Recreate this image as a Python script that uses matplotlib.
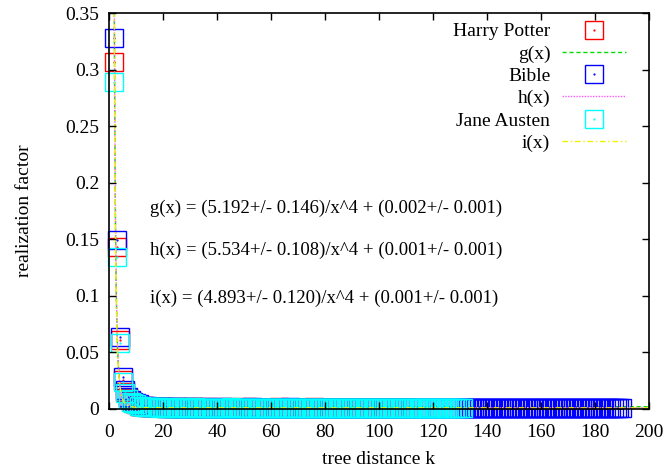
import numpy as np
import matplotlib
matplotlib.use("Agg")
import matplotlib.pyplot as plt
from matplotlib.legend_handler import HandlerTuple

plt.rcParams['font.family'] = ['Liberation Serif', 'DejaVu Serif']
plt.rcParams['font.size'] = 14

# realization factor per tree distance k (first point at k = 2)
harry_potter = [
    0.307, 0.143, 0.061, 0.026, 0.015, 0.010, 0.007, 0.005, 0.004, 0.003,
    0.003, 0.003, 0.002, 0.002, 0.002, 0.002, 0.002, 0.002,
    0.002, 0.001, 0.002, 0.001, 0.001, 0.002, 0.001, 0.001, 0.001, 0.002,
    0.001, 0.001, 0.002, 0.001, 0.001, 0.001, 0.001, 0.002, 0.001, 0.001,
    0.001, 0.001, 0.001, 0.001, 0.002, 0.001, 0.001, 0.001, 0.001, 0.001,
    0.001, 0.002, 0.001, 0.001, 0.001, 0.001, 0.001, 0.001, 0.001, 0.001,
    0.001, 0.001, 0.001, 0.002, 0.001, 0.001, 0.001, 0.001, 0.001, 0.001,
    0.001, 0.001, 0.001, 0.001, 0.001, 0.001, 0.002, 0.001, 0.001, 0.001,
    0.001, 0.001, 0.001, 0.001, 0.001, 0.001, 0.001, 0.001, 0.001, 0.001,
    0.001, 0.001, 0.001, 0.001, 0.001, 0.001, 0.001, 0.001, 0.001, 0.001,
    0.001, 0.001, 0.001, 0.001, 0.001, 0.001, 0.001, 0.001, 0.001, 0.001,
    0.001, 0.001,
]
bible = [
    0.328, 0.149, 0.064, 0.028, 0.017, 0.011, 0.008, 0.006, 0.005, 0.004,
    0.003, 0.003, 0.003, 0.002, 0.002, 0.002, 0.002, 0.002,
    0.002, 0.002, 0.001, 0.002, 0.001, 0.002, 0.001, 0.001, 0.002, 0.001,
    0.001, 0.002, 0.001, 0.001, 0.001, 0.002, 0.001, 0.001, 0.001, 0.001,
    0.001, 0.001, 0.002, 0.001, 0.001, 0.001, 0.001, 0.001, 0.001, 0.001,
    0.001, 0.001, 0.001, 0.002, 0.001, 0.001, 0.001, 0.001, 0.001, 0.001,
    0.001, 0.001, 0.001, 0.001, 0.001, 0.001, 0.001, 0.002, 0.001, 0.001,
    0.001, 0.001, 0.001, 0.001, 0.001, 0.001, 0.001, 0.001, 0.001, 0.001,
    0.001, 0.001, 0.001, 0.001, 0.001, 0.001, 0.001, 0.001, 0.001, 0.001,
    0.001, 0.001, 0.001, 0.001, 0.001, 0.001, 0.001, 0.001, 0.001, 0.001,
    0.001, 0.001, 0.001, 0.001, 0.001, 0.001, 0.001, 0.001, 0.001, 0.001,
    0.001, 0.001, 0.001, 0.001, 0.001, 0.001, 0.001, 0.001, 0.001, 0.001,
    0.001, 0.001, 0.001, 0.001, 0.001, 0.001, 0.001, 0.001, 0.001, 0.001,
    0.001, 0.001, 0.001, 0.001, 0.001, 0.001, 0.001, 0.001, 0.001, 0.001,
    0.001, 0.001, 0.001, 0.001, 0.001, 0.001, 0.001, 0.001, 0.001, 0.001,
    0.001, 0.001, 0.001, 0.001, 0.001, 0.001, 0.001, 0.001, 0.001, 0.001,
    0.001, 0.001, 0.001, 0.001, 0.001, 0.001, 0.001, 0.001, 0.001, 0.001,
    0.001, 0.001, 0.001, 0.001, 0.001, 0.001, 0.001, 0.001, 0.001, 0.001,
    0.001, 0.001, 0.001, 0.001, 0.001, 0.001, 0.001, 0.001, 0.001, 0.001,
    0.001,
]
jane_austen = [
    0.289, 0.134, 0.058, 0.024, 0.014, 0.009, 0.006, 0.005, 0.004, 0.003,
    0.003, 0.002, 0.002, 0.002, 0.002, 0.002, 0.002, 0.001,
    0.002, 0.001, 0.001, 0.002, 0.001, 0.001, 0.001, 0.002, 0.001, 0.001,
    0.001, 0.001, 0.002, 0.001, 0.001, 0.001, 0.001, 0.001, 0.001, 0.001,
    0.001, 0.001, 0.001, 0.001, 0.001, 0.002, 0.001, 0.001, 0.001, 0.001,
    0.001, 0.001, 0.001, 0.001, 0.001, 0.001, 0.001, 0.001, 0.001, 0.001,
    0.001, 0.001, 0.001, 0.001, 0.001, 0.001, 0.001, 0.001, 0.001, 0.001,
    0.001, 0.001, 0.001, 0.001, 0.001, 0.001, 0.001, 0.001, 0.001, 0.001,
    0.001, 0.001, 0.001, 0.001, 0.001, 0.001, 0.001, 0.001, 0.001, 0.001,
    0.001, 0.001, 0.001, 0.001, 0.001, 0.001, 0.001, 0.001, 0.001, 0.001,
    0.001, 0.001, 0.001, 0.001, 0.001, 0.001, 0.001, 0.001, 0.001, 0.001,
    0.001, 0.001, 0.001, 0.001, 0.001, 0.001, 0.001, 0.001, 0.001, 0.001,
    0.001, 0.001, 0.001, 0.001, 0.001, 0.001, 0.001, 0.001, 0.001, 0.001,
    0.001, 0.001,
]

# fitted curves a/x^4 + b
fit_g = (5.192, 0.002)
fit_h = (5.534, 0.001)
fit_i = (4.893, 0.001)
fit_text = [
    "g(x) = (5.192+/- 0.146)/x^4 + (0.002+/- 0.001)",
    "h(x) = (5.534+/- 0.108)/x^4 + (0.001+/- 0.001)",
    "i(x) = (4.893+/- 0.120)/x^4 + (0.001+/- 0.001)",
]
fit_text_y = [0.177, 0.140, 0.098]

fig = plt.figure(figsize=(6.66, 4.70), dpi=100)
ax = fig.add_axes([0.1637, 0.1298, 0.8108, 0.8425])

xs = np.linspace(1.8, 200, 4000)


def points(vals, color, label):
    k = np.arange(2, 2 + len(vals))
    sq, = ax.plot(k, vals, ls='none', marker='s', markersize=13.5, mfc='none',
                  mec=color, mew=1.0, label=label, clip_on=False)
    dot, = ax.plot(k, vals, ls='none', marker='.', markersize=1.2, color=color,
                   clip_on=False)
    return (sq, dot)


def curve(fit, color, ls, label):
    a, b = fit
    ln, = ax.plot(xs, a / xs**4 + b, color=color, lw=1.0, ls=ls, label=label)
    return ln


handles = []
handles.append(points(harry_potter, '#ff0000', 'Harry Potter'))
handles.append(curve(fit_g, '#00e000', (0, (3, 2)), 'g(x)'))
handles.append(points(bible, '#0000ff', 'Bible'))
handles.append(curve(fit_h, '#ff55ff', (0, (1, 1)), 'h(x)'))
handles.append(points(jane_austen, '#00ffff', 'Jane Austen'))
handles.append(curve(fit_i, '#f0f000', (0, (4, 2, 1, 2)), 'i(x)'))
labels = ['Harry Potter', 'g(x)', 'Bible', 'h(x)', 'Jane Austen', 'i(x)']

for t, y in zip(fit_text, fit_text_y):
    ax.text(15, y, t, ha='left', va='center', fontsize=13.5)

ax.set_xlim(0, 200)
ax.set_ylim(0, 0.35)
ax.set_xticks(np.arange(0, 201, 20))
ax.set_yticks(np.arange(0, 0.351, 0.05))
ax.set_yticklabels(['0', '0.05', '0.1', '0.15', '0.2', '0.25', '0.3', '0.35'])
ax.tick_params(direction='in', top=True, right=True, length=5, width=1)
ax.tick_params(axis='y', pad=7)
ax.tick_params(axis='x', pad=11)
for s in ax.spines.values():
    s.set_linewidth(1.2)
ax.set_axisbelow(False)

ax.set_xlabel('tree distance k', labelpad=7)
ax.set_ylabel('realization factor', labelpad=23)

ax.legend(handles, labels, handler_map={tuple: HandlerTuple(ndivide=1)},
          loc='upper right', bbox_to_anchor=(0.972, 0.995), markerfirst=False,
          frameon=False, handlelength=3.3, handletextpad=0.6, labelspacing=0.24,
          borderaxespad=0, fontsize=14)

fig.savefig('out.png', dpi=100)
